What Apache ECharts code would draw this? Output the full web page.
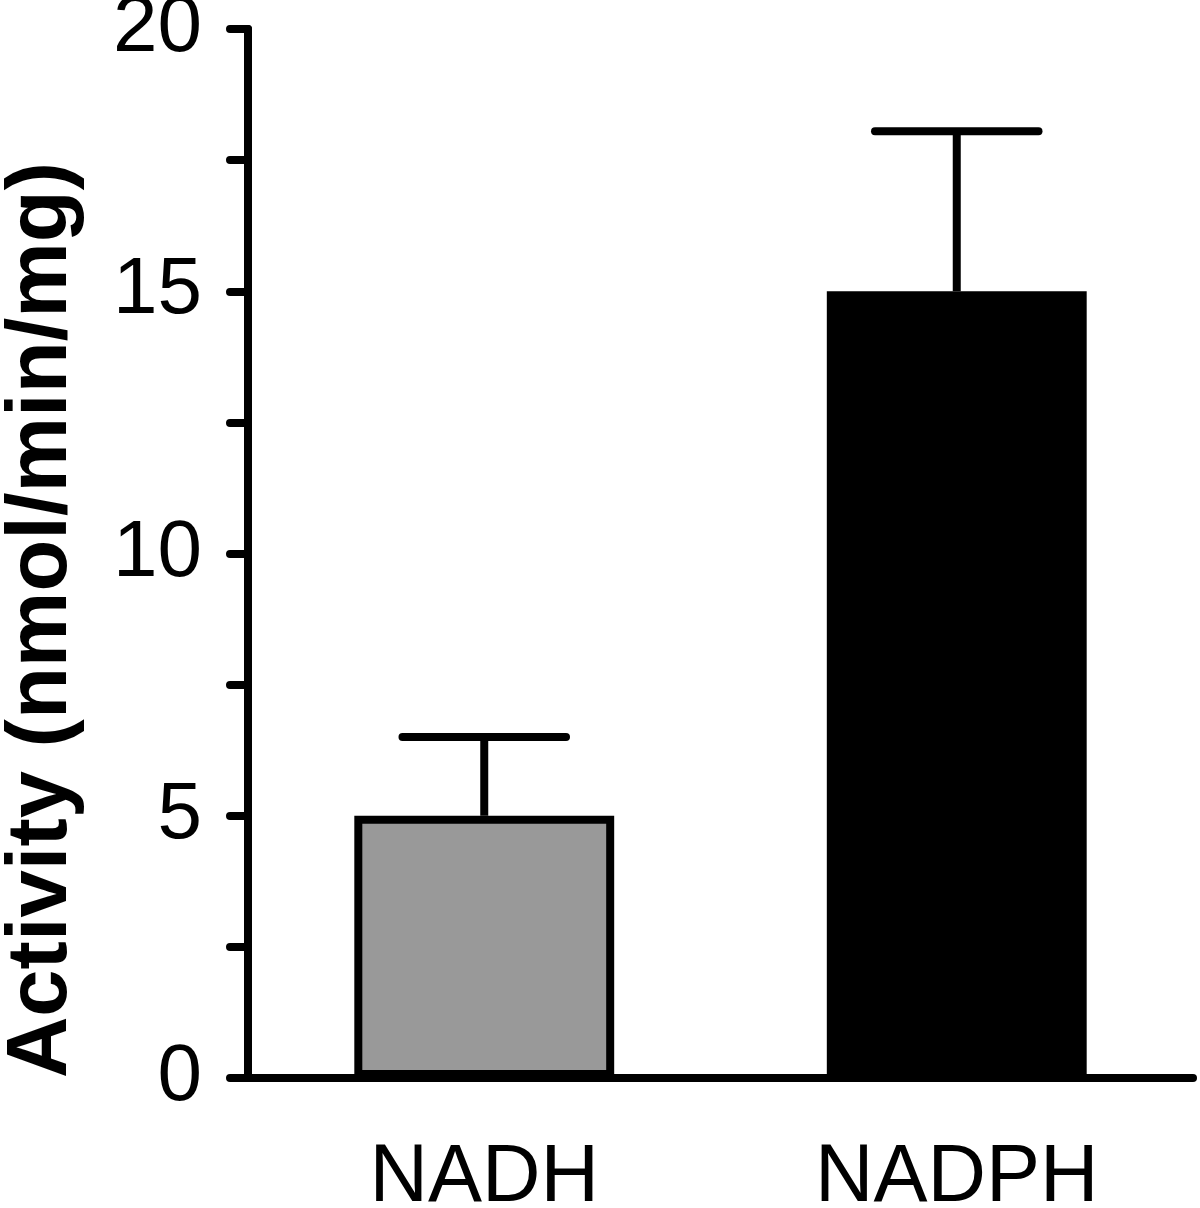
<!DOCTYPE html>
<html>
<head>
<meta charset="utf-8">
<script src="https://cdn.jsdelivr.net/npm/echarts@6/dist/echarts.min.js"></script>
<style>
html, body { margin: 0; padding: 0; background: #fff; }
#main { width: 1200px; height: 1208px; }
</style>
</head>
<body>
<div id="main"></div>
<script>
// data
var categories = ['NADH', 'NADPH'];
var means = [5.0, 15.0];
var errors = [1.5, 3.05];
var barColors = ['#999999', '#000000'];
var yLabelStep = 5;

var chart = echarts.init(document.getElementById('main'));

// error bar: stem from bar top, cap on top
function renderErrorBar(params, api) {
    var idx = api.value(0);
    var base = api.coord([idx, api.value(1)]);
    var top = api.coord([idx, api.value(1) + api.value(2)]);
    var half = api.size([1, 0])[0] * 0.173;
    return {
        type: 'group',
        children: [
            {type: 'line', shape: {x1: base[0], y1: base[1], x2: top[0], y2: top[1]},
             style: {stroke: '#000', lineWidth: 8}},
            {type: 'line', shape: {x1: top[0] - half, y1: top[1], x2: top[0] + half, y2: top[1]},
             style: {stroke: '#000', lineWidth: 8, lineCap: 'round'}}
        ]
    };
}

var errData = [];
for (var i = 0; i < categories.length; i++) {
    errData.push([i, means[i], errors[i]]);
}

chart.setOption({
    animation: false,
    backgroundColor: '#fff',
    grid: {left: 248, right: 7, top: 29, bottom: 130, containLabel: false, outerBoundsMode: 'none'},
    xAxis: {
        type: 'category',
        data: categories,
        axisLine: {lineStyle: {color: '#000', width: 8}},
        axisTick: {alignWithLabel: true, length: 28, lineStyle: {color: '#000', width: 8, cap: 'round'}},
        axisLabel: {
            color: '#000', fontSize: 81, fontFamily: 'Liberation Sans, Arial, sans-serif',
            margin: 60
        }
    },
    yAxis: {
        type: 'value',
        min: 0,
        max: 20,
        interval: 2.5,
        splitLine: {show: false},
        axisLine: {show: true, lineStyle: {color: '#000', width: 8}},
        axisTick: {show: true, length: 18, lineStyle: {color: '#000', width: 8, cap: 'round'}},
        axisLabel: {
            color: '#000', fontSize: 80, fontFamily: 'Liberation Sans, Arial, sans-serif',
            margin: 46,
            padding: [14, 0, 0, 0],
            showMinLabel: true,
            showMaxLabel: true,
            formatter: function (v) {
                return v % yLabelStep === 0 ? String(v) : '';
            }
        }
    },
    graphic: [{
        type: 'text',
        x: 43,
        y: 620,
        rotation: Math.PI / 2,
        style: {
            text: 'Activity (nmol/min/mg)',
            fill: '#000',
            font: 'bold 85px "Liberation Sans", Arial, sans-serif',
            textAlign: 'center',
            textVerticalAlign: 'middle'
        }
    }],
    series: [
        {
            type: 'bar',
            barWidth: '55%',
            data: means.map(function (v, i) {
                return {value: v, itemStyle: {color: barColors[i]}};
            }),
            itemStyle: {borderColor: '#000', borderWidth: 8},
            z: 2
        },
        {
            type: 'custom',
            renderItem: renderErrorBar,
            data: errData,
            z: 3
        }
    ]
});
</script>
</body>
</html>
